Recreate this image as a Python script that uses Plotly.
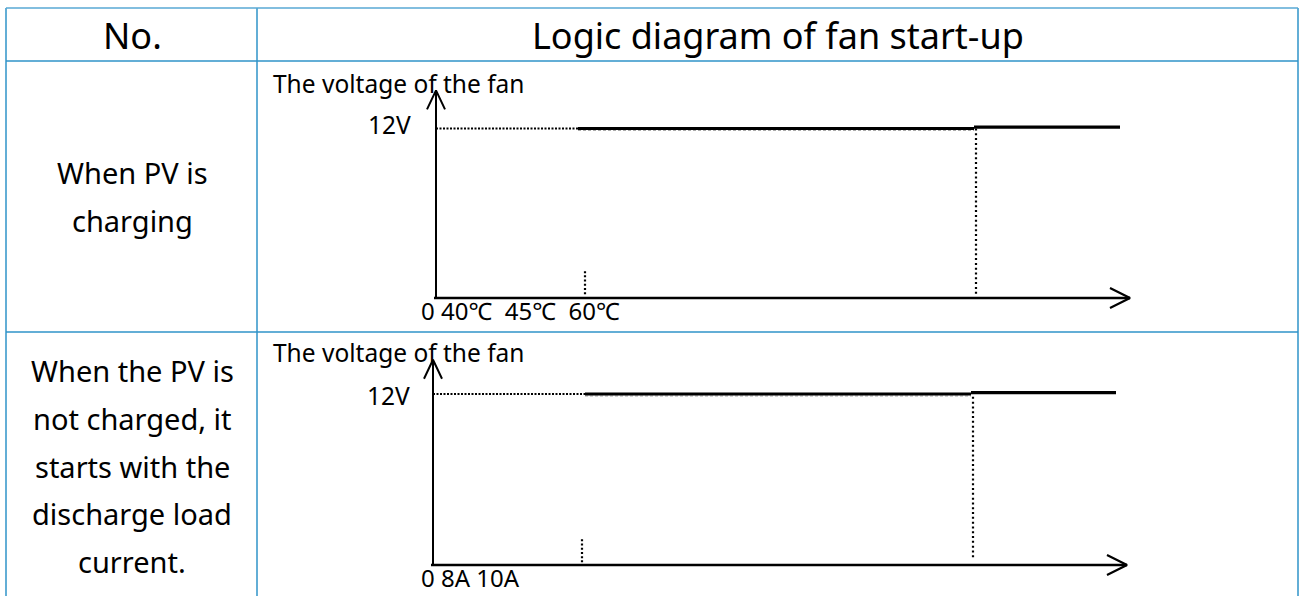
import plotly.graph_objects as go

W, H = 1301, 596

# table text
header = ["No.", "Logic diagram of fan start-up"]
row_lines = [
    ["When PV is", "charging"],
    ["When the PV is", "not charged, it", "starts with the", "discharge load", "current."],
]
y_title = "The voltage of the fan"
v_label = "12V"
x_labels = ["0\u00a040℃\u00a0\u00a045℃\u00a0\u00a060℃", "0\u00a08A\u00a010A"]

# diagram values (x in units along the axis, y in volts)
fan_v = 12
y_axis_top = [14.7, 14.4]
x_axis_end = [694, 694]
dotted_end = [142, 152]
step_at = [538, 538]
line_end = [684, 683]
drop_x = [540, 540]
drop_y = [[12, 0.2], [11.8, 0.4]]
tick_x = [149, 149]
tick_y = [[1.9, 0.2], [1.8, 0.15]]

# layout of the table (pixels)
col_x = [6, 257, 1298]
row_y = [8, 61, 332, 596]
origin = [(436, 298), (433, 565)]
v12_px = [128.5, 394]

BORDER = "#2f93c9"
FONT = "Noto Sans, Noto Sans CJK SC, sans-serif"


def px(x):
    return x / W


def py(y):
    return 1 - y / H


fig = go.Figure()
annotations = []
shapes = []

# table grid
for x in col_x:
    shapes.append(dict(type="line", xref="paper", yref="paper", x0=px(x), x1=px(x),
                       y0=py(row_y[0]), y1=py(row_y[-1]), line=dict(color=BORDER, width=1.5)))
for i, y in enumerate(row_y[:-1]):
    shapes.append(dict(type="line", xref="paper", yref="paper", x0=px(col_x[0]), x1=px(col_x[-1]),
                       y0=py(y), y1=py(y),
                       line=dict(color="#58a8d4" if i == 0 else BORDER, width=1.5)))

# header text
head_y = (row_y[0] + row_y[1]) / 2 + 1
for txt, xc in zip(header, [(col_x[0] + col_x[1]) / 2 + 1, (col_x[1] + col_x[2]) / 2]):
    annotations.append(dict(text=txt, x=px(xc), y=py(head_y), xref="paper", yref="paper",
                            showarrow=False, xanchor="center", yanchor="middle",
                            font=dict(family=FONT, size=36, color="black")))

# row labels, one annotation per line (48px line pitch)
for r, lines in enumerate(row_lines):
    mid = (row_y[r + 1] + row_y[r + 2]) / 2
    n = len(lines)
    for k, line in enumerate(lines):
        yc = mid + (k - (n - 1) / 2) * 47.8 + (0 if r == 0 else 2)
        annotations.append(dict(text=line, x=px(132), y=py(yc), xref="paper", yref="paper",
                                showarrow=False, xanchor="center", yanchor="middle",
                                font=dict(family=FONT, size=29, color="black")))

for r in range(2):
    ox, oy = origin[r]
    s = (oy - v12_px[r]) / fan_v  # pixels per volt
    top, bot = row_y[r + 1], row_y[r + 2]
    xa = "x" if r == 0 else "x2"
    ya = "y" if r == 0 else "y2"
    ax_key = "xaxis" if r == 0 else "xaxis2"
    ay_key = "yaxis" if r == 0 else "yaxis2"
    fig.update_layout(**{
        ax_key: dict(domain=[px(col_x[1]), px(col_x[2])], range=[col_x[1] - ox, col_x[2] - ox],
                     visible=False, fixedrange=True, anchor=ya),
        ay_key: dict(domain=[py(bot), py(top)], range=[-(bot - oy) / s, (oy - top) / s],
                     visible=False, fixedrange=True, anchor=xa),
    })

    def line(x, y, width=2.0, dash="solid", color="black"):
        fig.add_trace(go.Scatter(x=x, y=y, mode="lines", xaxis=xa, yaxis=ya, hoverinfo="skip",
                                 showlegend=False,
                                 line=dict(color=color, width=width, dash=dash)))

    # faint dotted continuation under the solid level
    line([dotted_end[r], step_at[r]], [fan_v - 0.14, fan_v - 0.14], width=1, dash="3px,2px", color="#a8a8a8")
    # dotted 12V guide
    line([0, dotted_end[r]], [fan_v, fan_v], width=2.2, dash="2px,1.5px")
    # fan on level
    line([dotted_end[r], step_at[r]], [fan_v, fan_v], width=3.2)
    line([step_at[r], line_end[r]], [fan_v + 0.1, fan_v + 0.1], width=3.2)
    # dotted drop lines
    line([drop_x[r], drop_x[r]], drop_y[r], width=2.2, dash="2px,2.8px")
    line([tick_x[r], tick_x[r]], tick_y[r], width=2.2, dash="2px,2.2px")
    # axes
    line([0, 0], [0, y_axis_top[r]], width=2)
    line([-2, x_axis_end[r]], [0, 0], width=2.6)
    # arrow heads (open chevrons)
    ah = 19 / s
    line([-9, 0, 9], [y_axis_top[r] - ah, y_axis_top[r], y_axis_top[r] - ah], width=2)
    line([x_axis_end[r] - 20, x_axis_end[r], x_axis_end[r] - 20], [10 / s, 0, -10 / s], width=2.2)

    # texts
    annotations.append(dict(text=y_title, x=px(271), y=py(83 if r == 0 else 353),
                            xref="paper", yref="paper", showarrow=False,
                            xanchor="left", yanchor="middle",
                            font=dict(family=FONT, size=24.5, color="black")))
    annotations.append(dict(text=v_label, x=-23 if r == 0 else -21, y=fan_v, xref=xa, yref=ya,
                            yshift=4 if r == 0 else -1, showarrow=False,
                            xanchor="right", yanchor="middle",
                            font=dict(family=FONT, size=24.5, color="black")))
    annotations.append(dict(text=x_labels[r], x=px(419), y=py(310) if r == 0 else 0,
                            xref="paper", yref="paper", showarrow=False,
                            xanchor="left", yanchor="middle" if r == 0 else "bottom",
                            font=dict(family=FONT, size=24, color="black")))

fig.update_layout(
    width=W, height=H,
    margin=dict(l=0, r=0, t=0, b=0),
    paper_bgcolor="white", plot_bgcolor="white",
    shapes=shapes, annotations=annotations,
    showlegend=False,
)

# the page body has a default 8px margin; drop it so the figure fills the window
fig.write_html("out.html", config={"displayModeBar": False},
               post_script="document.body.style.margin='0';")
